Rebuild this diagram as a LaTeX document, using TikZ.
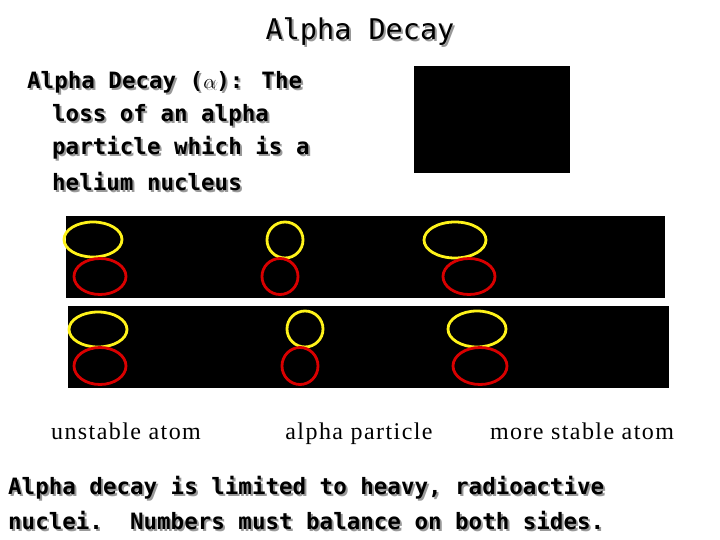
\documentclass[tikz,border=0pt]{standalone}
\usepackage{fontspec}
\setmainfont{Liberation Serif}
\newfontfamily\monob{DejaVu Sans Mono}[BoldFont=* Bold]
\newfontfamily\lblfont{Liberation Serif}[LetterSpace=6]
\begin{document}
\begin{tikzpicture}[x=1pt,y=-1pt,
  yel/.style={draw=yellow!90!white,line width=2.8pt},
  rd/.style={draw=red!85!black,line width=2.8pt},
  txt/.style={anchor=west,inner sep=0pt,font=\monob\bfseries\fontsize{22.5}{26}\selectfont},
  sh/.style={txt,text=black!40},
  lbl/.style={inner sep=0pt,anchor=base,font=\lblfont\fontsize{24}{28}\selectfont}]
\useasboundingbox (0,0) rectangle (720,540);
\fill[white] (0,0) rectangle (720,540);
% title
\node[inner sep=0pt,font=\monob\fontsize{28.5}{32}\selectfont,text=black!40] at (362,34) {Alpha Decay};
\node (title)[inner sep=0pt,font=\monob\fontsize{28.5}{32}\selectfont] at (360,32) {Alpha Decay};
% definition
\foreach \x/\y/\t in {27/82/{Alpha Decay (\(\alpha\)): The},52/115/{loss of an alpha},52/148/{particle which is a},52/182/{helium nucleus}}{
  \node[sh] at (\x+2,\y+2) {\t};
  \node[txt] at (\x,\y) {\t};}
\fill[black] (414,66) rectangle (570,173);
% bands
\fill[black] (66,216) rectangle (665,298);
\fill[black] (68,306) rectangle (669,388);
\draw[yel] (93,239.5) ellipse (29 and 17.5);
\draw[rd] (100,276.5) ellipse (26 and 18);
\draw[yel] (285,240) ellipse (18 and 18);
\draw[rd] (280,276.5) ellipse (18 and 18);
\draw[yel] (455,240) ellipse (31 and 18);
\draw[rd] (469,276.5) ellipse (26 and 18);
\draw[yel] (98,329.5) ellipse (29 and 17.5);
\draw[rd] (100,366) ellipse (26 and 18.5);
\draw[yel] (305,329) ellipse (18 and 18);
\draw[rd] (300,366) ellipse (18 and 18.5);
\draw[yel] (477,329) ellipse (29 and 18);
\draw[rd] (480,366) ellipse (27 and 18.5);
% labels
\node (l1)[lbl] at (126,439) {unstable atom};
\node (l2)[lbl] at (359,439) {alpha particle};
\node (l3)[lbl] at (582,439) {more stable atom};
% bottom
\foreach \y/\t in {488/{Alpha decay is limited to heavy, radioactive},521/{nuclei.\ \ Numbers must balance on both sides.}}{
  \node[sh] at (10,\y+2) {\t};
  \node[txt] at (8,\y) {\t};}
\end{tikzpicture}
\end{document}
